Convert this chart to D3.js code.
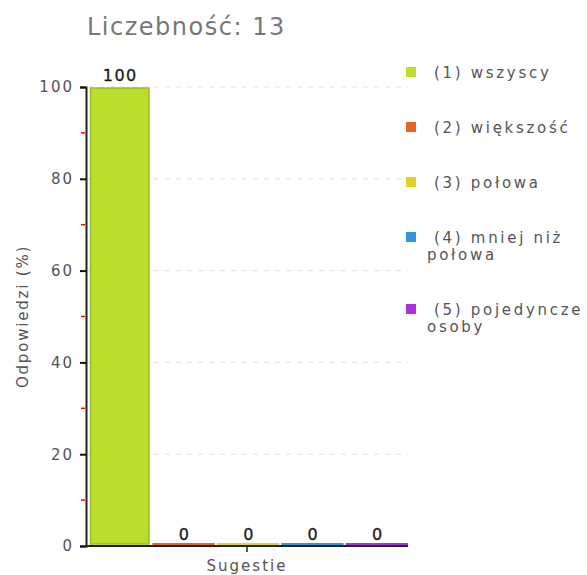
<!DOCTYPE html>
<html>
<head>
<meta charset="utf-8">
<script src="https://cdn.jsdelivr.net/npm/d3@7"></script>
<style>
    body { margin: 0; background: #fff; }
    svg { display: block; font-family: "DejaVu Sans", Verdana, sans-serif; }
</style>
</head>
<body>
<svg></svg>
<script>
const title = "Liczebność: 13";
const categories = ["(1) wszyscy", "(2) większość", "(3) połowa", "(4) mniej niż połowa", "(5) pojedyncze osoby"];
const values = [100, 0, 0, 0, 0];
const colors = ["#bade2e", "#e8632b", "#e2d12a", "#2f97e0", "#b02fe0"];
const yTicks = [0, 20, 40, 60, 80, 100];
const yMinorTicks = [10, 30, 50, 70, 90];
const yLabel = "Odpowiedzi (%)";
const xLabel = "Sugestie";

const width = 587;
const height = 575;

const svg = d3.select("svg")
    .attr("width", width)
    .attr("height", height);

const x = d3.scaleBand()
    .domain(categories)
    .range([88, 408])
    .paddingInner(0.03)
    .paddingOuter(0);

const y = d3.scaleLinear()
    .domain([0, 100])
    .range([546, 87]);

// title
svg.append("text")
    .attr("x", 87)
    .attr("y", 35)
    .attr("fill", "#777")
    .style("font-size", "24px")
    .style("letter-spacing", "1.5px")
    .text(title);

// grid lines
svg.selectAll(".grid")
    .data(yTicks.filter(d => d > 0))
    .enter().append("line")
    .attr("x1", 88)
    .attr("x2", 408)
    .attr("y1", d => y(d))
    .attr("y2", d => y(d))
    .attr("stroke", "#e0e0e0")
    .attr("stroke-width", 1)
    .attr("stroke-dasharray", "5,6");

// bars
svg.selectAll(".bar")
    .data(values)
    .enter().append("rect")
    .attr("x", (d, i) => x(categories[i]) + (d > 0 ? 2.5 : 0))
    .attr("width", d => x.bandwidth() - (d > 0 ? 4 : 0))
    .attr("y", d => Math.min(y(d) + 1, y(0) - 3))
    .attr("height", d => Math.max(y(0) - y(d) - 3, 2))
    .attr("fill", (d, i) => colors[i])
    .attr("stroke", (d, i) => d > 0 ? d3.color(colors[i]).darker(0.5) : "none")
    .attr("stroke-width", 1.5);

// value labels
svg.selectAll(".val")
    .data(values)
    .enter().append("text")
    .attr("x", (d, i) => x(categories[i]) + x.bandwidth() / 2 + 1)
    .attr("y", d => y(d) - 6)
    .attr("text-anchor", "middle")
    .attr("fill", "#1a1a1a")
    .attr("stroke", "#1a1a1a")
    .attr("stroke-width", 0.3)
    .style("font-size", "16px")
    .style("letter-spacing", "1.5px")
    .text(d => d);

// y axis
const yAxis = svg.append("g")
    .attr("transform", "translate(86,0)")
    .call(d3.axisLeft(y).tickValues(yTicks).tickSize(6).tickPadding(6));
yAxis.select(".domain").attr("stroke", "#222").attr("stroke-width", 2);
yAxis.selectAll(".tick line").attr("stroke", "#111").attr("stroke-width", 2);
yAxis.selectAll(".tick text")
    .attr("fill", "#555")
    .style("font-size", "15px")
    .style("letter-spacing", "2px")
    .style("font-family", "\"DejaVu Sans\", Verdana, sans-serif");

svg.selectAll(".minor")
    .data(yMinorTicks)
    .enter().append("line")
    .attr("x1", 81)
    .attr("x2", 85)
    .attr("y1", d => y(d))
    .attr("y2", d => y(d))
    .attr("stroke", "#f00")
    .attr("stroke-width", 1.5);

// x axis
svg.append("line")
    .attr("x1", 85)
    .attr("x2", 408)
    .attr("y1", y(0))
    .attr("y2", y(0))
    .attr("stroke", "#222")
    .attr("stroke-width", 2);

const xMid = (x.range()[0] + x.range()[1]) / 2 - 1;
svg.append("line")
    .attr("x1", xMid)
    .attr("x2", xMid)
    .attr("y1", y(0))
    .attr("y2", y(0) + 6)
    .attr("stroke", "#222")
    .attr("stroke-width", 1.5);

svg.append("text")
    .attr("x", xMid)
    .attr("y", 571)
    .attr("text-anchor", "middle")
    .attr("fill", "#555")
    .style("font-size", "15px")
    .style("letter-spacing", "2px")
    .text(xLabel);

svg.append("text")
    .attr("transform", `translate(28,${(y(0) + y(100)) / 2}) rotate(-90)`)
    .attr("text-anchor", "middle")
    .attr("fill", "#555")
    .style("font-size", "15px")
    .style("letter-spacing", "1.8px")
    .text(yLabel);

// legend
const legend = svg.append("g");
let ly = 67;
categories.forEach((c, i) => {
    const g = legend.append("g").attr("transform", `translate(406,${ly})`);
    g.append("rect")
        .attr("width", 10)
        .attr("height", 10)
        .attr("fill", colors[i]);
    const t = g.append("text")
        .attr("fill", "#555")
        .style("font-size", "15px")
        .style("letter-spacing", "2.7px");
    // wrap words to legend width
    const words = c.split(" ");
    const lines = [];
    let line = "";
    const probe = g.append("text").style("font-size", "15px").style("letter-spacing", "2.7px");
    words.forEach(w => {
        const test = line ? line + " " + w : w;
        probe.text(test);
        if (line && probe.node().getComputedTextLength() > 156) {
            lines.push(line);
            line = w;
        } else {
            line = test;
        }
    });
    lines.push(line);
    probe.remove();
    lines.forEach((l, j) => {
        t.append("tspan")
            .attr("x", j === 0 ? 28 : 21)
            .attr("y", 11 + j * 17)
            .text(l);
    });
    ly += 55 + 17 * (lines.length - 1);
});
</script>
</body>
</html>
